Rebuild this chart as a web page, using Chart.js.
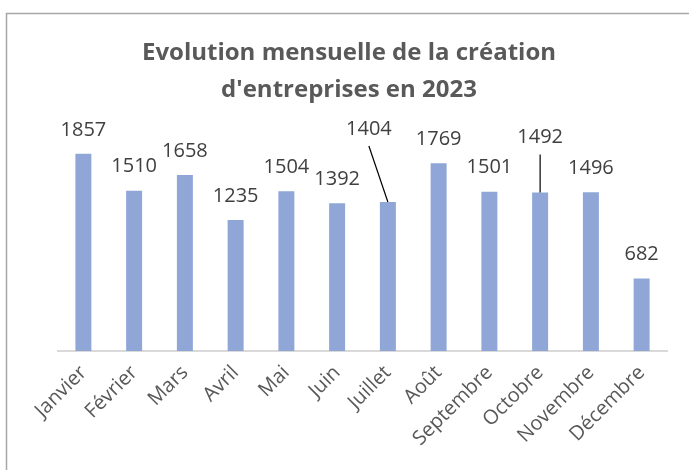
<!DOCTYPE html>
<html>
<head>
<meta charset="utf-8">
<script src="https://cdn.jsdelivr.net/npm/chart.js@4/dist/chart.umd.min.js"></script>
<style>
  html, body { margin: 0; padding: 0; background: #ffffff; overflow: hidden; }
  #wrap { position: relative; width: 689px; height: 470px; }
</style>
</head>
<body>
<div id="wrap"><canvas id="chart" width="689" height="470"></canvas></div>
<script>
const mois = ['Janvier', 'Février', 'Mars', 'Avril', 'Mai', 'Juin', 'Juillet', 'Août', 'Septembre', 'Octobre', 'Novembre', 'Décembre'];
const creations = [1857, 1510, 1658, 1235, 1504, 1392, 1404, 1769, 1501, 1492, 1496, 682];
const titre = ['Evolution mensuelle de la création', "d'entreprises en 2023"];

const FONT = '"Open Sans", "Liberation Sans", sans-serif';

// cadre + titre
const cadrePlugin = {
  id: 'cadre',
  beforeDraw(chart) {
    const ctx = chart.ctx;
    ctx.save();
    ctx.fillStyle = '#ffffff';
    ctx.fillRect(0, 0, chart.width, chart.height);
    ctx.strokeStyle = '#a6a6a6';
    ctx.lineWidth = 1.5;
    ctx.strokeRect(6.5, 13.5, chart.width + 20, chart.height + 20);
    ctx.fillStyle = '#595959';
    ctx.font = 'bold 24px ' + FONT;
    ctx.textAlign = 'center';
    ctx.textBaseline = 'middle';
    ctx.fillText(titre[0], 349, 53);
    ctx.fillText(titre[1], 349, 90);
    ctx.restore();
  },
};

// étiquettes de valeurs (avec traits de rappel pour Juillet et Octobre)
const etiquettesPlugin = {
  id: 'etiquettes',
  afterDatasetsDraw(chart, args, opts) {
    const ctx = chart.ctx;
    const meta = chart.getDatasetMeta(0);
    ctx.save();
    ctx.font = '20px ' + FONT;
    ctx.fillStyle = '#404040';
    ctx.textAlign = 'center';
    ctx.textBaseline = 'middle';
    meta.data.forEach((bar, i) => {
      const dec = opts.decalages[i];
      let x = bar.x;
      let y = bar.y - 24;
      if (dec) {
        x = bar.x + dec.dx;
        y = bar.y + dec.dy;
        ctx.strokeStyle = '#000000';
        ctx.lineWidth = 1.2;
        ctx.beginPath();
        ctx.moveTo(x + dec.lx, y + 17);
        ctx.lineTo(bar.x, bar.y);
        ctx.stroke();
      }
      ctx.fillText(String(chart.data.datasets[0].data[i]), x, y);
    });
    ctx.restore();
  },
};

new Chart(document.getElementById('chart'), {
  type: 'bar',
  data: {
    labels: mois,
    datasets: [
      {
        data: creations,
        backgroundColor: '#8FA6D7',
        borderWidth: 0,
        barPercentage: 0.315,
        categoryPercentage: 1,
      },
    ],
  },
  options: {
    responsive: false,
    animation: false,
    events: [],
    layout: {
      padding: { left: 58, right: 22, top: 110, bottom: 0 },
    },
    plugins: {
      legend: { display: false },
      title: { display: false },
      tooltip: { enabled: false },
      etiquettes: {
        decalages: {
          6: { dx: -19, dy: -73, lx: 0 },
          9: { dx: 0, dy: -55, lx: 0 },
        },
      },
    },
    scales: {
      x: {
        afterFit(scale) {
          scale.height = 119;
        },
        grid: { display: false, drawTicks: false },
        border: { display: true, color: '#d9d9d9', width: 2 },
        ticks: {
          color: '#595959',
          font: { family: FONT, size: 20 },
          maxRotation: 45,
          minRotation: 45,
          padding: 10,
        },
      },
      y: {
        display: false,
        min: 0,
        max: 2270,
      },
    },
  },
  plugins: [cadrePlugin, etiquettesPlugin],
});
</script>
</body>
</html>
